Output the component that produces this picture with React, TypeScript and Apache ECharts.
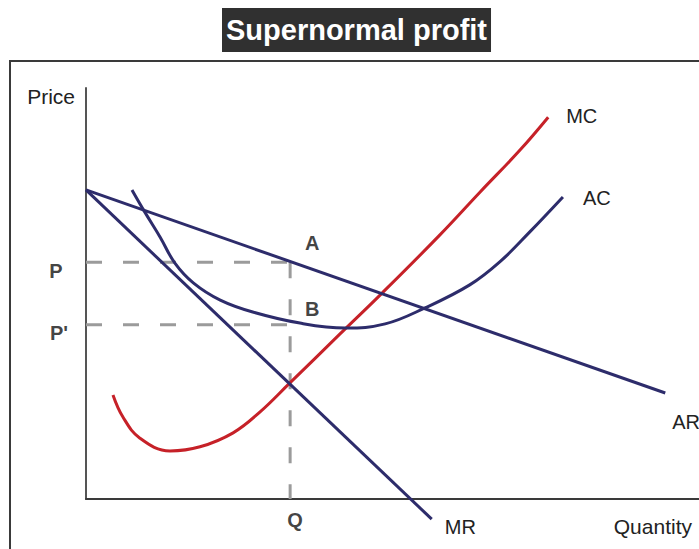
import React, { useEffect, useRef } from "react";
import * as echarts from "echarts";

// Curves (quantity units 0..100, price units 0..100)
const arQ = [0, 94.5];
const arP = [75.2, 25.8];
const mrQ = [0, 56.4];
const mrP = [75.2, -4.9];
const mcQ = [4.4, 6.0, 8.8, 13.7, 18.6, 24.0, 28.4, 33.1, 41.4, 48.3, 57.7, 64.3, 70.8, 75.4];
const mcP = [25.3, 20.0, 14.8, 11.7, 12.7, 16.1, 21.2, 28.0, 40.1, 50.1, 64.2, 74.7, 84.9, 92.9];
const acQ = [7.5, 9.6, 12.1, 14.5, 17.5, 21.9, 27.2, 34.9, 42.3, 48.8, 55.3, 62.6, 67.5, 72.4, 77.8];
const acP = [75.2, 69.8, 63.7, 57.4, 52.6, 48.4, 45.5, 42.8, 41.6, 42.6, 46.5, 52.1, 57.7, 65.0, 73.5];

// Key levels
const Q = 33.3;
const P = 57.6;
const P2 = 42.4;

const curveNames = ["AR", "MR", "MC", "AC"];
const pointLabels = ["P", "P'", "Q", "A", "B"];

const NAVY = "#2d2c6b";
const RED = "#c62128";
const DASH = "#9b9b9b";
const FONT = "Liberation Sans, Arial, sans-serif";

const zip = (xs: number[], ys: number[]) => xs.map((x, i) => [x, ys[i]]);

export default function App() {
  const ref = useRef<HTMLDivElement>(null);
  useEffect(() => {
    if (!ref.current) return;
    const chart = echarts.init(ref.current, null, { renderer: "svg" });
    const textStyleReg = { fontFamily: FONT, fontSize: 20, color: "#222" };
    const boldLbl = { fontFamily: FONT, fontSize: 20, fontWeight: "bold" as const, color: "#111" };
    const dashStyle = { color: DASH, width: 3, type: [16, 21] as any };
    const curve = (name: string, data: number[][], color: string, label: any, extra: any = {}) => ({
      name,
      type: "line",
      data,
      showSymbol: false,
      symbol: "none",
      smooth: extra.smooth ?? false,
      clip: false,
      lineStyle: { color, width: 3 },
      endLabel: { show: true, formatter: name, ...textStyleReg, ...label },
      z: extra.z ?? 3,
    });
    const option: any = {
      animation: false,
      backgroundColor: "#fff",
      title: {
        text: "Supernormal profit",
        left: 222,
        top: 8,
        backgroundColor: "#303030",
        padding: [5, 4, 5, 4],
        textStyle: { color: "#fff", fontSize: 29, fontWeight: "bold", fontFamily: FONT, lineHeight: 34 },
      },
      grid: { left: 86, right: 0, top: 88, bottom: 50 },
      xAxis: {
        type: "value",
        min: 0,
        max: 100,
        name: "Quantity",
        nameLocation: "end",
        nameGap: -7,
        nameTextStyle: { ...textStyleReg, fontSize: 21, align: "right", verticalAlign: "top", padding: [17, 0, 0, 0] },
        axisLine: { show: true, lineStyle: { color: "#3a3a3a", width: 2 } },
        axisTick: { show: false },
        axisLabel: { show: false },
        splitLine: { show: false },
      },
      yAxis: {
        type: "value",
        min: 0,
        max: 100,
        name: "Price",
        nameLocation: "end",
        nameGap: 2,
        nameTextStyle: { ...textStyleReg, fontSize: 21, align: "right", verticalAlign: "top", padding: [0, 11, 0, 0] },
        axisLine: { show: true, lineStyle: { color: "#555", width: 2 } },
        axisTick: { show: false },
        axisLabel: { show: false },
        splitLine: { show: false },
      },
      graphic: [
        {
          type: "rect",
          shape: { x: 10, y: 61, width: 760, height: 560 },
          style: { fill: "none", stroke: "#3a3a3a", lineWidth: 2 },
          silent: true,
        },
      ],
      series: [
        {
          type: "line",
          data: [[0, P], [Q, P]],
          showSymbol: false,
          symbol: "none",
          lineStyle: dashStyle,
          z: 1,
        },
        {
          type: "line",
          data: [[0, P2], [Q, P2]],
          showSymbol: false,
          symbol: "none",
          lineStyle: dashStyle,
          z: 1,
        },
        {
          type: "line",
          data: [[Q, P], [Q, 0]],
          showSymbol: false,
          symbol: "none",
          lineStyle: dashStyle,
          z: 1,
        },
        curve(curveNames[0], zip(arQ, arP), NAVY, { distance: 7, offset: [0, 29] }),
        curve(curveNames[1], zip(mrQ, mrP), NAVY, { distance: 13, offset: [0, 8] }),
        curve(curveNames[2], zip(mcQ, mcP), RED, { distance: 18, offset: [0, -1] }, { smooth: 0.4, z: 2 }),
        curve(curveNames[3], zip(acQ, acP), NAVY, { distance: 20, offset: [0, 1] }, { smooth: 0.4 }),
        {
          type: "scatter",
          symbolSize: 1,
          itemStyle: { color: "rgba(0,0,0,0)" },
          z: 5,
          data: [
            { value: [0, P], label: { offset: [-30, 9] } },
            { value: [0, P2], label: { offset: [-27, 8] } },
            { value: [Q, 0], label: { offset: [5, 21] } },
            { value: [Q, P], label: { offset: [22, -19] } },
            { value: [Q, P2], label: { offset: [22, -16] } },
          ].map((d, i) => ({
            ...d,
            label: {
              show: true,
              position: "inside",
              align: "center",
              verticalAlign: "middle",
              formatter: pointLabels[i],
              ...boldLbl,
              ...d.label,
            },
          })),
        },
      ],
    };
    chart.setOption(option);
    return () => chart.dispose();
  }, []);
  return (
    <div
      ref={ref}
      style={{ position: "absolute", left: 0, top: 0, width: 699, height: 549, background: "#fff" }}
    />
  );
}
